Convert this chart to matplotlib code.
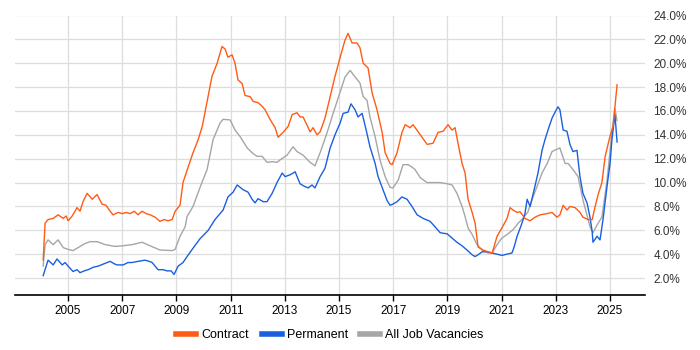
import numpy as np
import matplotlib
matplotlib.use("Agg")
import matplotlib.pyplot as plt
from matplotlib.ticker import FuncFormatter

plt.rcParams['font.family'] = ['Liberation Sans', 'DejaVu Sans']

# Contract rate (% of vacancies)
contract_t = [2004.08, 2004.15, 2004.26, 2004.45, 2004.63, 2004.82, 2004.93, 2005.0, 2005.15, 2005.33,
              2005.44, 2005.55, 2005.70, 2005.89, 2006.07, 2006.25, 2006.40, 2006.55, 2006.66, 2006.85,
              2007.0, 2007.14, 2007.29, 2007.44, 2007.58, 2007.73, 2007.88, 2008.03, 2008.21, 2008.39,
              2008.54, 2008.69, 2008.84, 2008.95, 2009.13, 2009.24, 2009.43, 2009.61, 2009.80, 2009.95,
              2010.13, 2010.31, 2010.50, 2010.68, 2010.79, 2010.90, 2011.05, 2011.16, 2011.27, 2011.42,
              2011.53, 2011.72, 2011.83, 2012.01, 2012.16, 2012.27, 2012.45, 2012.64, 2012.75, 2012.93,
              2013.12, 2013.27, 2013.45, 2013.56, 2013.67, 2013.82, 2013.93, 2014.04, 2014.19, 2014.30,
              2014.48, 2014.67, 2014.85, 2015.04, 2015.22, 2015.33, 2015.48, 2015.66, 2015.77, 2015.89,
              2016.07, 2016.22, 2016.40, 2016.59, 2016.70, 2016.88, 2016.96, 2017.14, 2017.32, 2017.44,
              2017.62, 2017.73, 2018.0, 2018.25, 2018.47, 2018.65, 2018.84, 2019.02, 2019.17, 2019.28,
              2019.39, 2019.54, 2019.65, 2019.76, 2019.91, 2020.02, 2020.13, 2020.31, 2020.50, 2020.65,
              2020.83, 2021.01, 2021.20, 2021.31, 2021.42, 2021.57, 2021.68, 2021.86, 2022.05, 2022.23,
              2022.42, 2022.68, 2022.86, 2023.04, 2023.15, 2023.27, 2023.41, 2023.52, 2023.71, 2023.89,
              2024.0, 2024.19, 2024.34, 2024.45, 2024.56, 2024.70, 2024.82, 2025.0, 2025.11, 2025.26]
contract = [3.5, 6.6, 6.9, 7.0, 7.3, 7.0, 7.2, 6.8, 7.2, 7.9,
            7.6, 8.4, 9.1, 8.6, 9.0, 8.2, 8.1, 7.6, 7.3, 7.5,
            7.4, 7.5, 7.4, 7.6, 7.3, 7.6, 7.4, 7.3, 7.1, 6.75,
            6.9, 6.8, 6.9, 7.6, 8.1, 10.0, 11.3, 12.5, 13.6, 14.7,
            16.8, 18.9, 20.0, 21.4, 21.2, 20.5, 20.7, 20.0, 18.6, 18.3,
            17.3, 17.2, 16.8, 16.7, 16.4, 16.1, 15.3, 14.6, 13.8, 14.2,
            14.7, 15.7, 15.85, 15.5, 15.5, 14.8, 14.25, 14.6, 14.0, 14.25,
            15.4, 17.2, 18.9, 20.5, 21.95, 22.5, 21.7, 21.7, 21.3, 20.0,
            19.6, 17.5, 16.1, 14.2, 12.5, 11.6, 11.5, 12.5, 14.2, 14.85,
            14.6, 14.85, 14.0, 13.2, 13.3, 14.2, 14.3, 14.85, 14.4, 14.6,
            13.3, 11.6, 10.8, 8.6, 7.5, 6.6, 4.6, 4.35, 4.2, 4.1,
            5.5, 6.2, 7.0, 7.9, 7.7, 7.5, 7.55, 7.0, 6.8, 7.1,
            7.3, 7.4, 7.5, 7.1, 7.3, 8.1, 7.7, 8.0, 7.9, 7.5,
            7.1, 6.9, 6.9, 8.0, 9.0, 10.0, 12.2, 13.9, 14.7, 18.2]

# Permanent rate
perm_t = [2004.08, 2004.26, 2004.45, 2004.59, 2004.78, 2004.89, 2005.0, 2005.18, 2005.33, 2005.44,
          2005.59, 2005.74, 2005.92, 2006.11, 2006.33, 2006.55, 2006.70, 2006.81, 2007.03, 2007.21,
          2007.36, 2007.58, 2007.84, 2007.99, 2008.10, 2008.32, 2008.51, 2008.65, 2008.80, 2008.91,
          2009.06, 2009.24, 2009.39, 2009.61, 2009.87, 2010.17, 2010.42, 2010.72, 2010.90, 2011.09,
          2011.24, 2011.46, 2011.64, 2011.79, 2011.90, 2012.01, 2012.20, 2012.34, 2012.53, 2012.71,
          2012.90, 2013.01, 2013.19, 2013.38, 2013.56, 2013.71, 2013.86, 2014.00, 2014.11, 2014.30,
          2014.48, 2014.67, 2014.85, 2015.04, 2015.15, 2015.33, 2015.44, 2015.59, 2015.70, 2015.85,
          2016.00, 2016.14, 2016.33, 2016.44, 2016.62, 2016.77, 2016.88, 2016.99, 2017.14, 2017.32,
          2017.51, 2017.69, 2017.88, 2018.10, 2018.36, 2018.54, 2018.73, 2018.99, 2019.17, 2019.35,
          2019.54, 2019.72, 2019.91, 2020.02, 2020.13, 2020.28, 2020.46, 2020.65, 2020.83, 2021.01,
          2021.20, 2021.38, 2021.46, 2021.57, 2021.75, 2021.86, 2021.94, 2022.05, 2022.23, 2022.34,
          2022.49, 2022.60, 2022.71, 2022.86, 2022.97, 2023.08, 2023.15, 2023.27, 2023.41, 2023.52,
          2023.63, 2023.78, 2023.89, 2024.00, 2024.15, 2024.26, 2024.34, 2024.37, 2024.52, 2024.63,
          2024.74, 2024.89, 2025.00, 2025.07, 2025.18, 2025.26]
perm = [2.2, 3.5, 3.1, 3.6, 3.1, 3.3, 3.0, 2.55, 2.7, 2.45,
        2.6, 2.7, 2.9, 3.0, 3.2, 3.4, 3.2, 3.1, 3.1, 3.3,
        3.3, 3.4, 3.5, 3.4, 3.3, 2.7, 2.7, 2.6, 2.6, 2.3,
        3.0, 3.3, 3.8, 4.5, 5.3, 6.0, 6.9, 7.7, 8.8, 9.2,
        9.8, 9.4, 9.2, 8.6, 8.3, 8.65, 8.4, 8.4, 9.1, 10.0,
        10.8, 10.5, 10.65, 10.9, 9.9, 9.7, 9.55, 9.8, 9.55, 10.5,
        11.2, 12.9, 14.0, 15.0, 15.8, 15.9, 16.6, 16.1, 15.5, 15.8,
        14.4, 13.0, 11.6, 10.5, 9.4, 8.5, 8.1, 8.2, 8.4, 8.8,
        8.6, 8.0, 7.3, 7.0, 6.75, 6.3, 5.8, 5.7, 5.35, 5.0,
        4.7, 4.35, 3.95, 3.8, 3.95, 4.2, 4.2, 4.1, 4.0, 3.9,
        4.0, 4.1, 4.6, 5.5, 6.6, 7.4, 8.6, 8.0, 9.7, 10.8,
        12.7, 13.6, 14.4, 15.4, 15.9, 16.35, 16.1, 14.4, 14.3, 13.2,
        12.6, 12.7, 10.5, 9.1, 8.3, 7.1, 5.9, 5.0, 5.5, 5.2,
        6.9, 9.7, 11.6, 13.6, 15.7, 13.4]

# All job vacancies
all_t = [2004.08, 2004.15, 2004.26, 2004.45, 2004.63, 2004.82, 2005.0, 2005.18, 2005.37, 2005.63,
         2005.81, 2006.07, 2006.37, 2006.73, 2007.0, 2007.36, 2007.73, 2008.03, 2008.39, 2008.84,
         2008.95, 2009.13, 2009.32, 2009.39, 2009.61, 2009.87, 2010.13, 2010.35, 2010.61, 2010.72,
         2010.98, 2011.16, 2011.35, 2011.61, 2011.79, 2011.97, 2012.16, 2012.34, 2012.53, 2012.71,
         2012.82, 2013.08, 2013.30, 2013.45, 2013.67, 2013.93, 2014.11, 2014.30, 2014.56, 2014.78,
         2015.04, 2015.22, 2015.41, 2015.59, 2015.77, 2015.89, 2016.03, 2016.14, 2016.33, 2016.51,
         2016.70, 2016.88, 2016.99, 2017.18, 2017.36, 2017.55, 2017.69, 2017.80, 2018.0, 2018.25,
         2018.47, 2018.73, 2018.99, 2019.17, 2019.35, 2019.54, 2019.65, 2019.76, 2019.91, 2020.09,
         2020.28, 2020.50, 2020.65, 2020.83, 2021.01, 2021.20, 2021.42, 2021.61, 2021.79, 2021.97,
         2022.12, 2022.31, 2022.49, 2022.68, 2022.86, 2023.04, 2023.15, 2023.34, 2023.45, 2023.63,
         2023.82, 2024.00, 2024.26, 2024.37, 2024.56, 2024.70, 2024.89, 2025.07, 2025.18, 2025.26]
all_jobs = [3.0, 4.8, 5.2, 4.8, 5.2, 4.55, 4.4, 4.3, 4.55, 4.9,
            5.05, 5.05, 4.8, 4.65, 4.7, 4.8, 5.0, 4.7, 4.35, 4.3,
            4.4, 5.5, 6.3, 7.15, 8.0, 9.6, 11.1, 13.6, 15.0, 15.3,
            15.25, 14.4, 13.85, 12.9, 12.5, 12.2, 12.2, 11.7, 11.75, 11.7,
            11.9, 12.3, 13.0, 12.6, 12.3, 11.7, 11.4, 12.5, 14.2, 15.8,
            17.6, 18.85, 19.4, 18.85, 18.35, 17.2, 16.9, 15.5, 13.85, 11.9,
            10.5, 9.6, 9.55, 10.2, 11.5, 11.5, 11.3, 11.1, 10.4, 10.0,
            10.0, 10.0, 9.9, 9.8, 9.1, 8.0, 7.15, 6.2, 5.65, 4.8,
            4.35, 4.1, 4.1, 4.8, 5.35, 5.65, 6.05, 6.6, 7.0, 7.55,
            8.55, 9.7, 10.8, 11.6, 12.6, 12.8, 12.9, 11.6, 11.6, 11.1,
            10.5, 8.55, 6.3, 5.8, 6.6, 7.1, 10.2, 14.2, 16.2, 15.2]

years = [2005, 2007, 2009, 2011, 2013, 2015, 2017, 2019, 2021, 2023, 2025]
yticks = [2, 4, 6, 8, 10, 12, 14, 16, 18, 20, 22, 24]

fig = plt.figure(figsize=(7, 3.5), dpi=100)
ax = fig.add_axes([15 / 700, 55 / 350, 630 / 700, 279.5 / 350])

ax.plot(all_t, all_jobs, color='#a6a6a6', lw=1.0, label='All Job Vacancies', zorder=3)
ax.plot(perm_t, perm, color='#1a5fe0', lw=1.0, label='Permanent', zorder=4)
ax.plot(contract_t, contract, color='#ff5b14', lw=1.0, label='Contract', zorder=5)

ax.set_xlim(2003.04, 2026.29)
ax.set_ylim(0.58, 24.0)
ax.set_xticks(years)
ax.set_xticklabels([str(y) for y in years])
ax.set_yticks(yticks)
ax.yaxis.set_major_formatter(FuncFormatter(lambda v, p: f"{v:.1f}%"))
ax.yaxis.tick_right()
ax.tick_params(axis='y', length=0, pad=6, labelsize=8.5, colors='#333333')
ax.tick_params(axis='x', length=4, width=1, pad=3, labelsize=8.5, colors='black')
ax.grid(True, color='#dddddd', lw=0.9, zorder=0)
for s in ['top', 'left', 'right']:
    ax.spines[s].set_visible(False)
ax.spines['bottom'].set_linewidth(1.2)

handles, labels = ax.get_legend_handles_labels()
order = [2, 1, 0]
leg = fig.legend([plt.Line2D([], [], color=handles[i].get_color(), lw=4) for i in order],
                 [labels[i] for i in order], loc='center', bbox_to_anchor=(330 / 700, 15 / 350),
                 ncol=3, frameon=False, fontsize=9, handlelength=1.6, handletextpad=0.4,
                 columnspacing=1.0)

fig.savefig('out.png', dpi=100)
